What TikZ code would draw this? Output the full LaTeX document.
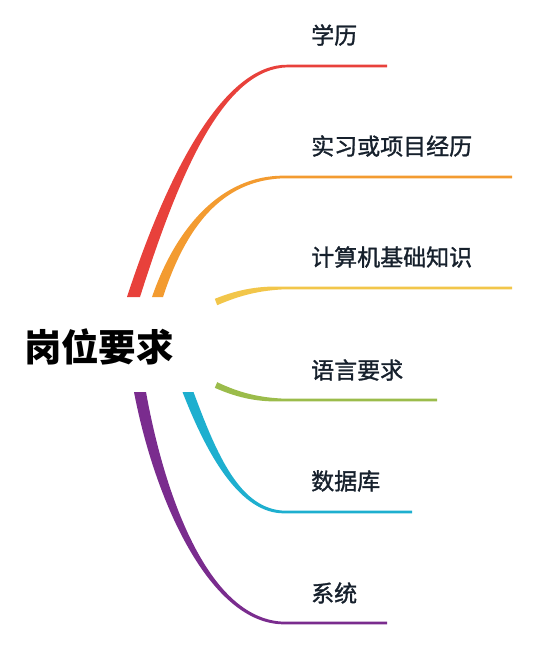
\documentclass[tikz,border=0pt]{standalone}
\usepackage{fontspec}
\newfontfamily\cjk{Noto Sans CJK SC}
\newfontfamily\cjkm[FakeBold=1.3]{Noto Sans CJK SC}
\usetikzlibrary{calc}
\definecolor{cRed}{HTML}{E8413B}
\definecolor{cOrange}{HTML}{F39B30}
\definecolor{cYellow}{HTML}{F2C64A}
\definecolor{cGreen}{HTML}{9BBC4B}
\definecolor{cCyan}{HTML}{1EAFCF}
\definecolor{cPurple}{HTML}{7A2C8E}
\definecolor{cText}{HTML}{16202C}
\newcommand\mmbranch[4]{%
 \fill[#1] ($(#2a)+({-1*(#3)},{-1*(#4)})$) .. controls ($(#2b)+({-0.9*(#3)},{-0.9*(#4)})$) and ($(#2c)+(0,-2.4)$) .. ($(#2d)+(0,-1.3)$)
   -- ($(#2e)+(0,-1.3)$) -- ($(#2e)+(0,1.3)$) -- ($(#2d)+(0,1.3)$)
   .. controls ($(#2c)+(0,2.4)$) and ($(#2b)+({0.9*(#3)},{0.9*(#4)})$) .. ($(#2a)+(#3,#4)$) -- cycle;}
\begin{document}
\begin{tikzpicture}[x=1pt,y=-1pt,
  lbl/.style={anchor=west,inner sep=0pt,text=cText,font=\cjkm\fontsize{23}{23}\selectfont},
  rootlbl/.style={anchor=center,inner sep=0pt,text=black,font=\cjk\bfseries\fontsize{37.5}{37.5}\selectfont}]
\useasboundingbox (0,0) rectangle (538,649);
% root
\node[rootlbl] (root) at (99,347) {岗位要求};
% labels
\node[lbl] (l1) at (311,35) {学历};
\node[lbl] (l2) at (311,146) {实习或项目经历};
\node[lbl] (l3) at (311,257) {计算机基础知识};
\node[lbl] (l4) at (311,370) {语言要求};
\node[lbl] (l5) at (311,481) {数据库};
\node[lbl] (l6) at (311,593) {系统};
% red
\coordinate (ra) at (133.5,297); \coordinate (rb) at (175,168);
\coordinate (rc) at (225,66); \coordinate (rd) at (288,66); \coordinate (re) at (387,66);
\mmbranch{cRed}{r}{6.5}{0}
% orange
\coordinate (oa) at (157.5,297); \coordinate (ob) at (180,230);
\coordinate (oc) at (220,177); \coordinate (od) at (285,177); \coordinate (oe) at (512,177);
\mmbranch{cOrange}{o}{5.5}{0}
% yellow
\coordinate (ya) at (216,302); \coordinate (yb) at (240,292);
\coordinate (yc) at (260,288); \coordinate (yd) at (285,288); \coordinate (ye) at (512,288);
\mmbranch{cYellow}{y}{1.2}{3.2}
% green
\coordinate (ga) at (216,385); \coordinate (gb) at (240,396);
\coordinate (gc) at (260,400); \coordinate (gd) at (285,400); \coordinate (ge) at (437,400);
\mmbranch{cGreen}{g}{-1.2}{2.8}
% cyan
\coordinate (ca) at (188,392); \coordinate (cb) at (212,455);
\coordinate (cc) at (240,512); \coordinate (cd) at (285,512); \coordinate (ce) at (412,512);
\mmbranch{cCyan}{c}{-5.5}{0}
% purple
\coordinate (pa) at (140,392); \coordinate (pb) at (160,500);
\coordinate (pc) at (210,623); \coordinate (pd) at (285,623); \coordinate (pe) at (387,623);
\mmbranch{cPurple}{p}{-6}{0}
\end{tikzpicture}
\end{document}
